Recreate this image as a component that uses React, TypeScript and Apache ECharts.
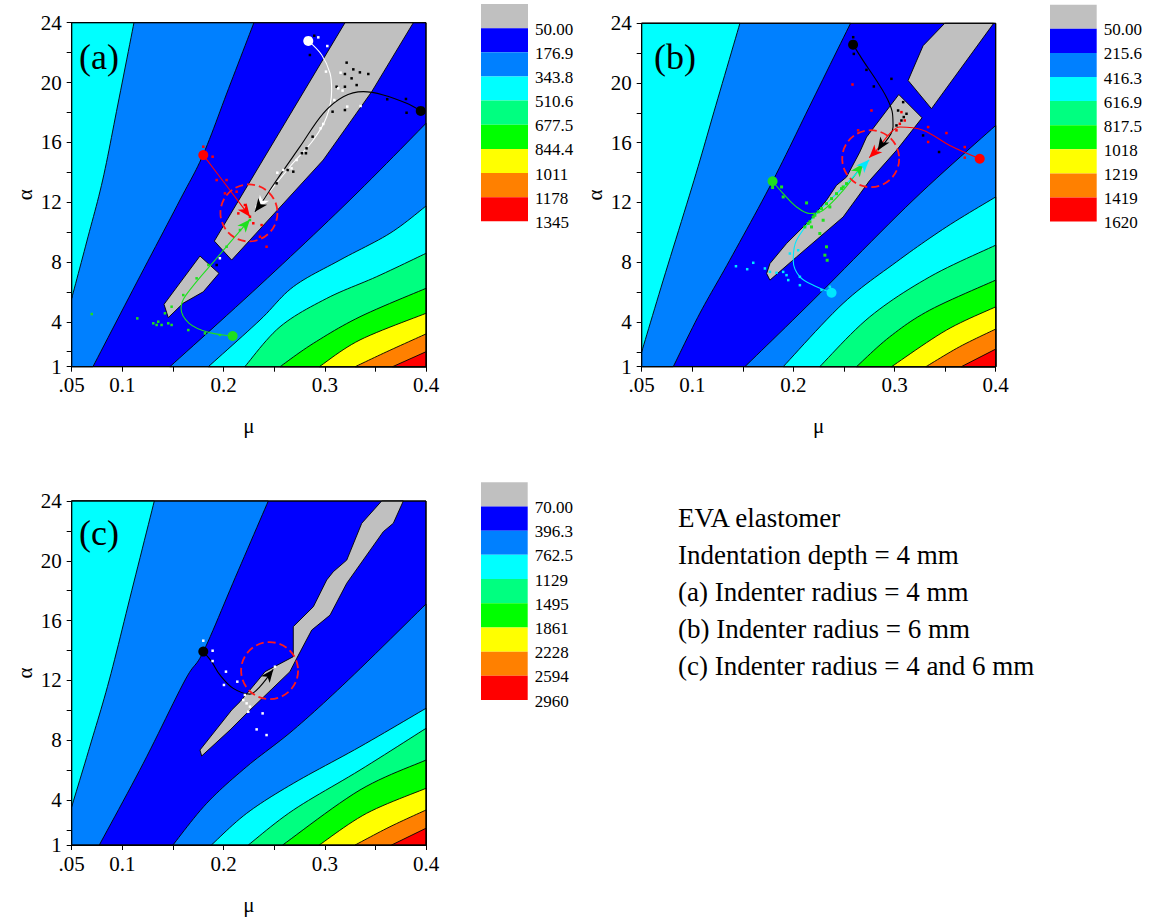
import React, { useEffect, useRef } from "react";
import * as echarts from "echarts";

type P = [number, number];

const FONT = "Liberation Serif";
const C_GRAY = "#C0C0C0";
const C_BLUE = "#0000FF";
const C_LBLUE = "#0080FF";
const C_CYAN = "#00FFFF";
const C_TEAL = "#00FF80";
const C_GREEN = "#00FF00";
const C_YELLOW = "#FFFF00";
const C_ORANGE = "#FF8000";
const C_RED = "#FF0000";
const BAND_COLORS = [C_GRAY, C_BLUE, C_LBLUE, C_CYAN, C_TEAL, C_GREEN, C_YELLOW, C_ORANGE, C_RED];

const LEVELS_A = ["50.00", "176.9", "343.8", "510.6", "677.5", "844.4", "1011", "1178", "1345"];
const LEVELS_B = ["50.00", "215.6", "416.3", "616.9", "817.5", "1018", "1219", "1419", "1620"];
const LEVELS_C = ["70.00", "396.3", "762.5", "1129", "1495", "1861", "2228", "2594", "2960"];

const X_TICKS = [0.05, 0.1, 0.15, 0.2, 0.25, 0.3, 0.35, 0.4];
const X_LABELS = [0.05, 0.1, 0.2, 0.3, 0.4];
const Y_TICKS = [1, 2, 4, 6, 8, 10, 12, 14, 16, 18, 20, 22, 24];
const Y_LABELS = [1, 4, 8, 12, 16, 20, 24];

const TEXT_LINES = [
  "EVA elastomer",
  "Indentation depth = 4 mm",
  "(a) Indenter radius = 4 mm",
  "(b) Indenter radius = 6 mm",
  "(c) Indenter radius = 4 and 6 mm",
];

// ---------- Panel (a) contour boundaries [mu, alpha] ----------
const A_L2: P[] = [[0.1115, 24], [0.0955, 18.5], [0.0806, 13.48], [0.065, 9.4], [0.05, 5.57]];
const A_L1: P[] = [[0.23, 24], [0.205, 19.6], [0.18, 15.2], [0.157, 12.15], [0.114, 6.6], [0.071, 1]];
const A_R1: P[] = [[0.4, 17.27], [0.3249, 12.15], [0.236, 6.46], [0.147, 1]];
const A_R2: P[] = [[0.4, 11.74], [0.3644, 9.92], [0.315, 8.13], [0.269, 6.35], [0.236, 4.12], [0.185, 1]];
const A_R3: P[] = [[0.4, 8.58], [0.3513, 7.02], [0.302, 5.57], [0.2558, 3.67], [0.221, 1]];
const A_R4: P[] = [[0.4, 6.24], [0.3348, 4.34], [0.2887, 2.56], [0.2558, 1]];
const A_R5: P[] = [[0.4, 4.57], [0.3348, 2.79], [0.2946, 1]];
const A_R6: P[] = [[0.4, 3.19], [0.3612, 2.0], [0.33, 1]];
const A_R7: P[] = [[0.4, 2.0], [0.367, 1]];
const A_GRAY1: P[] = [[0.32, 24], [0.3875, 24], [0.3464, 19.39], [0.2985, 14.82], [0.208, 8.13], [0.1909, 9.4]];
const A_GRAY2: P[] = [[0.1767, 8.4], [0.1955, 7.24], [0.18, 6.01], [0.16, 5.24], [0.1454, 4.28], [0.1412, 5.17]];

// ---------- Panel (b) ----------
const B_L2: P[] = [[0.1471, 24], [0.1233, 18.5], [0.1017, 13.48], [0.0713, 6.8], [0.05, 2.0]];
const B_L1: P[] = [[0.2565, 24], [0.2186, 18.8], [0.1794, 13.42], [0.137, 8.13], [0.1076, 4.59], [0.0812, 1]];
const B_R1: P[] = [[0.4, 17.16], [0.3183, 12.15], [0.2195, 5.46], [0.152, 1]];
const B_R2: P[] = [[0.4, 12.37], [0.3513, 10.36], [0.3019, 8.02], [0.2491, 5.24], [0.1899, 1]];
const B_R3: P[] = [[0.4, 9.14], [0.3348, 7.02], [0.2755, 4.34], [0.226, 1]];
const B_R4: P[] = [[0.4, 6.8], [0.3348, 4.79], [0.2952, 3.0], [0.2624, 1]];
const B_R5: P[] = [[0.4, 5.01], [0.3513, 3.45], [0.297, 1]];
const B_R6: P[] = [[0.4, 3.52], [0.3644, 2.34], [0.331, 1]];
const B_R7: P[] = [[0.4, 2.18], [0.366, 1]];
const B_GRAY1: P[] = [[0.3496, 24], [0.398, 24], [0.3365, 18.28], [0.3134, 20.17], [0.3282, 22.5]];
const B_GRAY2: P[] = [
  [0.3042, 19.23], [0.3272, 17.67], [0.3019, 15.49], [0.2755, 13.48], [0.2492, 11.03], [0.2031, 8.35],
  [0.1768, 6.8], [0.1735, 7.24], [0.1768, 7.91], [0.1932, 9.25], [0.2163, 10.81], [0.2327, 12.15],
  [0.2426, 13.15], [0.2525, 13.7], [0.2656, 15.37], [0.2723, 16.38],
];

// ---------- Panel (c) ----------
const C_L2: P[] = [[0.1316, 24], [0.1093, 18], [0.0871, 12.03], [0.068, 7.6], [0.05, 3.56]];
const C_L1: P[] = [[0.2442, 24], [0.2117, 18.9], [0.18, 13.92], [0.162, 12.03], [0.1207, 6.46], [0.0773, 1]];
const C_R1: P[] = [[0.4, 17.11], [0.3232, 12.03], [0.2689, 8.69], [0.2229, 6.24], [0.1834, 3.79], [0.15, 1]];
const C_R2: P[] = [[0.4, 10.14], [0.3348, 7.57], [0.2689, 5.12], [0.2229, 3.12], [0.188, 1]];
const C_R3: P[] = [[0.4, 8.8], [0.3348, 6.01], [0.269, 3.34], [0.2245, 1]];
const C_R4: P[] = [[0.4, 6.68], [0.3348, 4.68], [0.2584, 1]];
const C_R5: P[] = [[0.4, 4.79], [0.3414, 3.12], [0.2946, 1]];
const C_R6: P[] = [[0.4, 3.34], [0.3644, 2.22], [0.33, 1]];
const C_R7: P[] = [[0.4, 2.12], [0.366, 1]];
const C_GRAYP: P[] = [
  [0.3562, 24], [0.3365, 22.51], [0.3217, 20.05], [0.3084, 19.27], [0.3019, 18.72], [0.2887, 16.93],
  [0.2689, 15.6], [0.2689, 13.59], [0.241, 12.59], [0.2343, 12.03], [0.2163, 10.58], [0.2081, 10.03],
  [0.1767, 7.35], [0.1784, 6.95], [0.2064, 8.69], [0.2229, 9.81], [0.2656, 12.59], [0.2723, 13.48],
  [0.2871, 15.37], [0.3052, 16.37], [0.3217, 18.5], [0.3578, 21.95], [0.3677, 22.51], [0.3776, 24],
];

// ---------- Trajectories ----------
const A_WHITE: P[] = [[0.2837, 22.78], [0.297, 21.84], [0.3052, 20.62], [0.3068, 19.5], [0.3019, 17.71], [0.2887, 16.16], [0.2656, 14.37], [0.2385, 12.1], [0.2333, 11.57]];
const A_BLACK: P[] = [[0.3948, 18.1], [0.3809, 18.61], [0.3578, 19.17], [0.3381, 19.39], [0.3183, 19.05], [0.2985, 17.94], [0.2755, 15.71], [0.2525, 13.48], [0.236, 11.81], [0.231, 11.36]];
const A_RED: P[] = [[0.18, 15.15], [0.203, 13.1], [0.2261, 11.03]];
const A_GREEN: P[] = [[0.209, 3.05], [0.185, 3.3], [0.166, 3.9], [0.158, 4.9], [0.163, 5.8], [0.195, 8.4], [0.2261, 10.85]];

const B_BLACK: P[] = [[0.259, 22.57], [0.2689, 21.5], [0.2821, 20.17], [0.292, 19.05], [0.298, 17.94], [0.2985, 17.05], [0.2834, 15.49]];
const B_RED: P[] = [[0.3842, 14.93], [0.3546, 15.82], [0.3282, 16.83], [0.3052, 17.05], [0.2953, 16.61], [0.2821, 15.49], [0.2749, 15.0]];
const B_GREEN: P[] = [[0.1794, 13.42], [0.1899, 12.59], [0.2031, 11.7], [0.2163, 11.26], [0.2294, 11.48], [0.2492, 12.81], [0.2689, 14.6]];
const B_CYAN: P[] = [[0.2377, 5.95], [0.2229, 6.35], [0.2064, 7.02], [0.1998, 8.13], [0.2031, 9.47], [0.2229, 11.26], [0.2492, 13.03], [0.2749, 14.86]];

const C_BLACK: P[] = [[0.18, 13.93], [0.1882, 13.26], [0.1964, 12.37], [0.2096, 11.47], [0.2261, 11.09], [0.236, 11.59], [0.2491, 12.74]];

// ---------- Scattered solution points ----------
const A_BLACK_DOTS: P[] = [[0.2896, 23.13], [0.2853, 21.84], [0.3216, 21.33], [0.3282, 20.88], [0.3347, 20.68], [0.343, 20.57], [0.3199, 20.57], [0.3265, 20.28], [0.3315, 19.83], [0.3199, 19.72], [0.3117, 19.72], [0.3617, 18.88], [0.3802, 18.9], [0.3808, 17.98], [0.3077, 18.05], [0.3199, 18.16], [0.288, 16.38], [0.282, 15.6], [0.2774, 15.27], [0.2814, 15.27], [0.2689, 14.04], [0.2633, 14.15], [0.2524, 13.26], [0.1932, 7.8]];
const A_WHITE_DOTS: P[] = [[0.2936, 23.02], [0.3025, 22.44], [0.3012, 20.73], [0.3156, 20.66], [0.3133, 19.61], [0.3176, 19.46], [0.3094, 18.83], [0.3222, 18.39], [0.3354, 18.43], [0.2985, 17.23], [0.2959, 16.94], [0.2722, 14.82], [0.2672, 14.26], [0.259, 14.15], [0.2531, 13.97], [0.2327, 11.7], [0.1964, 8.25]];
const A_RED_DOTS: P[] = [[0.18, 15.71], [0.1892, 15.04], [0.203, 13.48], [0.1932, 13.48], [0.2129, 12.7], [0.2014, 12.59], [0.2211, 11.81], [0.2261, 11.03], [0.2294, 10.59], [0.2376, 10.47], [0.236, 9.69], [0.2425, 9.02], [0.2146, 11.25]];
const A_GREEN_DOTS: P[] = [[0.1306, 3.9], [0.1355, 4.01], [0.1388, 3.79], [0.1339, 3.79], [0.1454, 3.9], [0.1487, 3.79], [0.1421, 4.57], [0.1487, 5.01], [0.1602, 5.79], [0.1734, 6.91], [0.185, 7.8], [0.203, 9.02], [0.2162, 10.14], [0.2261, 10.81], [0.1652, 3.45], [0.1816, 3.23], [0.1964, 3.12], [0.0698, 4.52], [0.1148, 4.23]];

const B_BLACK_DOTS: P[] = [[0.2591, 23.07], [0.2597, 21.95], [0.2722, 20.88], [0.2795, 19.77], [0.2969, 20.28], [0.3085, 18.72], [0.3035, 18.16], [0.3118, 17.94], [0.3091, 17.72], [0.3068, 17.49], [0.3019, 17.16], [0.3282, 16.49], [0.344, 15.38]];
const B_RED_DOTS: P[] = [[0.2584, 19.9], [0.2772, 18.16], [0.264, 16.83], [0.3068, 18.05], [0.3101, 17.49], [0.3052, 17.27], [0.3019, 16.83], [0.3332, 17.05], [0.3513, 16.65], [0.3332, 16.05], [0.3694, 15.71], [0.3694, 15.0]];
const B_GREEN_DOTS: P[] = [[0.1794, 13.0], [0.1883, 13.04], [0.1899, 12.37], [0.213, 11.97], [0.2196, 11.03], [0.2294, 10.81], [0.2261, 9.92], [0.2146, 10.59], [0.2179, 10.36], [0.236, 11.7], [0.2492, 13.04], [0.2327, 9.03], [0.2311, 8.47], [0.2334, 8.13], [0.2113, 10.36], [0.2163, 10.7], [0.2212, 11.14], [0.2245, 11.37], [0.2278, 11.59], [0.2327, 11.92], [0.2377, 12.26], [0.2426, 12.59], [0.2476, 12.93], [0.2525, 13.26]];
const B_CYAN_DOTS: P[] = [[0.1603, 7.96], [0.1718, 7.58], [0.1768, 7.35], [0.1833, 7.29], [0.1899, 7.35], [0.1932, 7.13], [0.1949, 6.8], [0.2064, 6.46], [0.2064, 7.02], [0.1965, 8.58], [0.2047, 8.8], [0.2278, 6.13], [0.236, 6.35], [0.1432, 7.73], [0.1543, 7.53]];

const C_WHITE_DOTS: P[] = [[0.18, 14.66], [0.1892, 13.99], [0.1892, 13.3], [0.2024, 12.59], [0.2136, 11.92], [0.2004, 11.7], [0.2211, 11.03], [0.2195, 10.69], [0.2228, 10.47], [0.2261, 10.25], [0.2244, 9.91], [0.2386, 9.8], [0.2327, 8.73], [0.2425, 8.35], [0.2508, 12.92]];

// dashed circles (centres)
const A_CIRCLE: P = [0.2251, 11.28];
const B_CIRCLE: P = [0.2764, 14.93];
const C_CIRCLE: P = [0.2455, 12.66];

type Poly = { bnd: P[]; corners: P[]; smooth: boolean; fill: string; stroke?: string; lw?: number };

function makeBands(L2: P[], L1: P[], Rs: P[][], grays: P[][]): Poly[] {
  const polys: Poly[] = [];
  polys.push({ bnd: L1, corners: [[0.05, 1], [0.05, 24]], smooth: true, fill: C_LBLUE });
  polys.push({ bnd: L2, corners: [[0.05, 24]], smooth: true, fill: C_CYAN });
  const rc = [C_LBLUE, C_CYAN, C_TEAL, C_GREEN, C_YELLOW, C_ORANGE, C_RED];
  Rs.forEach((r, i) => polys.push({ bnd: r, corners: [[0.4, 1]], smooth: true, fill: rc[i] }));
  grays.forEach((g) => polys.push({ bnd: g, corners: [], smooth: false, fill: C_GRAY }));
  polys.push({ bnd: [[0.05, 1], [0.4, 1], [0.4, 24], [0.05, 24]], corners: [], smooth: false, fill: "none", stroke: "#000", lw: 1 });
  return polys;
}

// Catmull-Rom curve through pixel points (rendering only)
function curveThrough(pts: number[][], seg = 12): number[][] {
  if (pts.length < 3) return pts;
  const out: number[][] = [];
  for (let i = 0; i < pts.length - 1; i++) {
    const p0 = pts[i - 1] ?? pts[i];
    const p1 = pts[i];
    const p2 = pts[i + 1];
    const p3 = pts[i + 2] ?? pts[i + 1];
    for (let k = 0; k < seg; k++) {
      const t = k / seg;
      const t2 = t * t;
      const t3 = t2 * t;
      const f = (a: number, b: number, c: number, d: number) =>
        0.5 * (2 * b + (-a + c) * t + (2 * a - 5 * b + 4 * c - d) * t2 + (-a + 3 * b - 3 * c + d) * t3);
      out.push([f(p0[0], p1[0], p2[0], p3[0]), f(p0[1], p1[1], p2[1], p3[1])]);
    }
  }
  out.push(pts[pts.length - 1]);
  return out;
}

function bandSeries(idx: number, polys: Poly[]) {
  return {
    type: "custom",
    xAxisIndex: idx,
    yAxisIndex: idx,
    silent: true,
    z: 1,
    clip: false,
    data: polys.map((p) => [p.bnd[0][0], p.bnd[0][1]]),
    renderItem: (params: any, api: any) => {
      const p = polys[params.dataIndex];
      const b = p.bnd.map((q) => api.coord(q));
      const pts = [...(p.smooth ? curveThrough(b) : b), ...p.corners.map((q) => api.coord(q))];
      return {
        type: "polygon",
        shape: { points: pts },
        style: { fill: p.fill, stroke: p.stroke ?? "#000", lineWidth: p.lw ?? 0.9 },
      };
    },
  };
}

function pathSeries(idx: number, pts: P[], color: string, z = 5) {
  return {
    type: "line",
    xAxisIndex: idx,
    yAxisIndex: idx,
    data: pts,
    smooth: 0.35,
    showSymbol: false,
    silent: true,
    z,
    lineStyle: { color, width: 1.1, opacity: 1 },
  };
}

function dotSeries(idx: number, pts: P[], color: string, size = 2.5) {
  return {
    type: "scatter",
    xAxisIndex: idx,
    yAxisIndex: idx,
    data: pts,
    symbol: "rect",
    symbolSize: size,
    silent: true,
    z: 6,
    itemStyle: { color, opacity: 1 },
  };
}

function startSeries(idx: number, items: { p: P; color: string }[]) {
  return {
    type: "scatter",
    xAxisIndex: idx,
    yAxisIndex: idx,
    data: items.map((it) => ({ value: it.p, itemStyle: { color: it.color, opacity: 1 } })),
    symbol: "circle",
    symbolSize: 10,
    silent: true,
    z: 7,
  };
}

function arrowSeries(idx: number, items: { path: P[]; color: string }[]) {
  return {
    type: "custom",
    xAxisIndex: idx,
    yAxisIndex: idx,
    silent: true,
    z: 8,
    data: items.map((it) => {
      const n = it.path.length;
      const e = it.path[n - 1];
      const s = it.path[n - 2];
      return { value: [e[0], e[1], s[0], s[1]], itemStyle: { color: it.color } };
    }),
    renderItem: (params: any, api: any) => {
      const tip = api.coord([api.value(0), api.value(1)]);
      const prev = api.coord([api.value(2), api.value(3)]);
      let dx = tip[0] - prev[0];
      let dy = tip[1] - prev[1];
      const len = Math.hypot(dx, dy) || 1;
      dx /= len;
      dy /= len;
      const L = 13;
      const W = 11;
      const bx = tip[0] - dx * L;
      const by = tip[1] - dy * L;
      const nx = -dy;
      const ny = dx;
      const notchX = tip[0] - dx * L * 0.72;
      const notchY = tip[1] - dy * L * 0.72;
      return {
        type: "polygon",
        shape: {
          points: [
            tip,
            [bx + (nx * W) / 2, by + (ny * W) / 2],
            [notchX, notchY],
            [bx - (nx * W) / 2, by - (ny * W) / 2],
          ],
        },
        style: { fill: api.visual("color"), stroke: "none" },
      };
    },
  };
}

function circleSeries(idx: number, c: P) {
  return {
    type: "scatter",
    xAxisIndex: idx,
    yAxisIndex: idx,
    data: [c],
    symbol: "circle",
    symbolSize: 57,
    silent: true,
    z: 9,
    itemStyle: { color: "rgba(0,0,0,0)", borderColor: "#FF1A1A", borderWidth: 1.8, borderType: [8, 4], opacity: 1 },
  };
}

const GRIDS = [
  { left: 71.7, top: 22.7, width: 354.3, height: 344 },
  { left: 641.7, top: 23.3, width: 354, height: 343.4 },
  { left: 71.7, top: 501, width: 354.3, height: 344 },
];

function xAxisDef(i: number) {
  return {
    type: "value",
    gridIndex: i,
    min: 0.05,
    max: 0.4,
    name: "μ",
    nameLocation: "middle",
    nameGap: 49,
    nameTextStyle: { fontFamily: FONT, fontSize: 21, color: "#000" },
    axisLine: { show: true, lineStyle: { color: "#000", width: 1 } },
    axisTick: { show: true, length: 5, customValues: X_TICKS, lineStyle: { color: "#000" } },
    axisLabel: {
      customValues: X_LABELS,
      fontFamily: FONT,
      fontSize: 21,
      color: "#000",
      margin: 8,
      formatter: (v: number) => (Math.abs(v - 0.05) < 1e-9 ? ".05" : v.toFixed(1)),
    },
    splitLine: { show: false },
  };
}

function yAxisDef(i: number) {
  return {
    type: "value",
    gridIndex: i,
    min: 1,
    max: 24,
    name: "α",
    nameLocation: "middle",
    nameGap: 36,
    nameTextStyle: { fontFamily: FONT, fontSize: 21, color: "#000" },
    axisLine: { show: true, lineStyle: { color: "#000", width: 1 } },
    axisTick: { show: true, length: 5, customValues: Y_TICKS, lineStyle: { color: "#000" } },
    axisLabel: { customValues: Y_LABELS, fontFamily: FONT, fontSize: 21, color: "#000", margin: 10 },
    splitLine: { show: false },
  };
}

function legendGraphics(x: number, y: number, w: number, h: number, labels: string[]) {
  const els: any[] = [];
  BAND_COLORS.forEach((c, i) => {
    els.push({ type: "rect", shape: { x, y: y + i * h, width: w, height: h }, style: { fill: c }, silent: true });
  });
  labels.forEach((t, i) => {
    els.push({
      type: "text",
      x: x + w + 7,
      y: y + (i + 1) * h + 1,
      style: { text: t, fontFamily: FONT, fontSize: 17, fill: "#000", verticalAlign: "middle", align: "left" },
      silent: true,
    });
  });
  return els;
}

export default function App() {
  const ref = useRef<HTMLDivElement>(null);
  useEffect(() => {
    if (!ref.current) return;
    const chart = echarts.init(ref.current, undefined, { renderer: "svg" });

    const bandsA = makeBands(A_L2, A_L1, [A_R1, A_R2, A_R3, A_R4, A_R5, A_R6, A_R7], [A_GRAY1, A_GRAY2]);
    const bandsB = makeBands(B_L2, B_L1, [B_R1, B_R2, B_R3, B_R4, B_R5, B_R6, B_R7], [B_GRAY1, B_GRAY2]);
    const bandsC = makeBands(C_L2, C_L1, [C_R1, C_R2, C_R3, C_R4, C_R5, C_R6, C_R7], [C_GRAYP]);

    const WHITE = "#FFFFFF";
    const BLACK = "#000000";
    const RED = "#FF0000";
    const GREEN = "#1EE01E";
    const CYAN = "#00E8FF";

    const series: any[] = [
      bandSeries(0, bandsA),
      bandSeries(1, bandsB),
      bandSeries(2, bandsC),
      // panel a
      dotSeries(0, A_BLACK_DOTS, BLACK),
      dotSeries(0, A_WHITE_DOTS, WHITE),
      dotSeries(0, A_RED_DOTS, RED),
      dotSeries(0, A_GREEN_DOTS, GREEN),
      pathSeries(0, A_WHITE, WHITE),
      pathSeries(0, A_BLACK, BLACK),
      pathSeries(0, A_RED, RED),
      pathSeries(0, A_GREEN, GREEN),
      startSeries(0, [
        { p: A_WHITE[0], color: WHITE },
        { p: A_BLACK[0], color: BLACK },
        { p: A_RED[0], color: RED },
        { p: A_GREEN[0], color: GREEN },
      ]),
      arrowSeries(0, [
        { path: A_WHITE, color: WHITE },
        { path: A_BLACK, color: BLACK },
        { path: A_GREEN, color: GREEN },
        { path: A_RED, color: RED },
      ]),
      circleSeries(0, A_CIRCLE),
      // panel b
      dotSeries(1, B_BLACK_DOTS, BLACK),
      dotSeries(1, B_RED_DOTS, RED),
      dotSeries(1, B_GREEN_DOTS, GREEN, 3),
      dotSeries(1, B_CYAN_DOTS, CYAN),
      pathSeries(1, B_BLACK, BLACK),
      pathSeries(1, B_GREEN, GREEN),
      pathSeries(1, B_CYAN, CYAN),
      pathSeries(1, B_RED, RED),
      startSeries(1, [
        { p: B_BLACK[0], color: BLACK },
        { p: B_RED[0], color: RED },
        { p: B_GREEN[0], color: GREEN },
        { p: B_CYAN[0], color: CYAN },
      ]),
      arrowSeries(1, [
        { path: B_BLACK, color: BLACK },
        { path: B_GREEN, color: GREEN },
        { path: B_CYAN, color: CYAN },
        { path: B_RED, color: RED },
      ]),
      circleSeries(1, B_CIRCLE),
      // panel c
      dotSeries(2, C_WHITE_DOTS, WHITE),
      pathSeries(2, C_BLACK, BLACK),
      startSeries(2, [{ p: C_BLACK[0], color: BLACK }]),
      arrowSeries(2, [{ path: C_BLACK, color: BLACK }]),
      circleSeries(2, C_CIRCLE),
    ];

    const graphics: any[] = [
      ...legendGraphics(481, 4, 47, 24.15, LEVELS_A),
      ...legendGraphics(1050, 4.7, 46.7, 24.1, LEVELS_B),
      ...legendGraphics(481, 482.3, 46.7, 24.19, LEVELS_C),
      { type: "text", x: 79, y: 57, z: 50, style: { text: "(a)", fontFamily: FONT, fontSize: 36, fill: "#000", verticalAlign: "middle" } },
      { type: "text", x: 654, y: 57, z: 50, style: { text: "(b)", fontFamily: FONT, fontSize: 36, fill: "#000", verticalAlign: "middle" } },
      { type: "text", x: 79, y: 533, z: 50, style: { text: "(c)", fontFamily: FONT, fontSize: 36, fill: "#000", verticalAlign: "middle" } },
      ...TEXT_LINES.map((t, i) => ({
        type: "text",
        x: 678,
        y: 518 + i * 37,
        style: { text: t, fontFamily: FONT, fontSize: 27, fill: "#000", verticalAlign: "middle" },
      })),
    ];

    chart.setOption({
      animation: false,
      backgroundColor: "#FFFFFF",
      grid: GRIDS.map((g) => ({ ...g, show: true, backgroundColor: C_BLUE, borderColor: "#000", borderWidth: 1, containLabel: false })),
      xAxis: [0, 1, 2].map(xAxisDef),
      yAxis: [0, 1, 2].map(yAxisDef),
      series,
      graphic: { elements: graphics.map((g) => ({ ...g, z: g.z ?? 40 })) },
    });

    return () => chart.dispose();
  }, []);

  return (
    <div
      ref={ref}
      style={{ position: "fixed", left: 0, top: 0, width: 1152, height: 920, background: "#fff" }}
    />
  );
}
